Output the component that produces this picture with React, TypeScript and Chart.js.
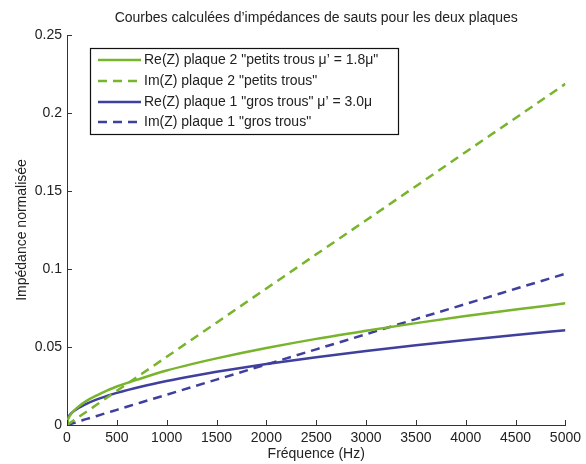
import { useEffect, useRef } from 'react';
import { Chart, registerables } from 'chart.js';

Chart.register(...registerables);

const titleText = 'Courbes calculées d’impédances de sauts pour les deux plaques';
const xLabel = 'Fréquence (Hz)';
const yLabel = 'Impédance normalisée';

const freqs = [0, 10, 25, 50, 100, 200, 300, 400, 500, 750, 1000, 1250, 1500, 2000, 2500, 3000, 3500, 4000, 4500, 5000];
const re2 = [0, 0.0035, 0.0055, 0.0078, 0.011, 0.0156, 0.019, 0.022, 0.0247, 0.030, 0.0349, 0.039, 0.0427, 0.0493, 0.0552, 0.0604, 0.0653, 0.0698, 0.074, 0.078];
const im2 = [0, 0.0004, 0.0011, 0.0022, 0.0044, 0.0087, 0.0131, 0.0175, 0.0219, 0.0328, 0.0437, 0.0547, 0.0656, 0.0875, 0.1094, 0.1312, 0.1531, 0.175, 0.1968, 0.2187];
const re1 = [0, 0.0046, 0.0062, 0.0079, 0.0103, 0.0137, 0.0164, 0.0186, 0.0206, 0.0247, 0.0282, 0.0313, 0.0341, 0.0391, 0.0435, 0.0475, 0.0511, 0.0545, 0.0577, 0.0607];
const im1 = [0, 0.0002, 0.0005, 0.001, 0.0019, 0.0039, 0.0058, 0.0078, 0.0097, 0.0146, 0.0194, 0.0243, 0.0291, 0.0388, 0.0485, 0.0582, 0.0679, 0.0776, 0.0873, 0.097];

const xTicks = [0, 500, 1000, 1500, 2000, 2500, 3000, 3500, 4000, 4500, 5000];
const yTicks = [0, 0.05, 0.1, 0.15, 0.2, 0.25];

const seriesLabels = [
  'Re(Z) plaque 2 "petits trous μ’ = 1.8μ"',
  'Im(Z) plaque 2 "petits trous"',
  'Re(Z) plaque 1 "gros trous" μ’ = 3.0μ',
  'Im(Z) plaque 1 "gros trous"',
];

const GREEN = '#78B42C';
const BLUE = '#3F3F9E';
const DASH = [9, 6];
const FONT = '"Liberation Sans", Arial, Helvetica, sans-serif';
const TEXT = '#222222';
const FS = 14;

const toPts = (ys: number[]) => ys.map((y, i) => ({ x: freqs[i], y }));

const deco = {
  id: 'deco',
  afterDraw(chart: any) {
    const ctx = chart.ctx as CanvasRenderingContext2D;
    const { left, right, top, bottom } = chart.chartArea;
    const xs = chart.scales.x;
    const ys = chart.scales.y;
    ctx.save();
    ctx.strokeStyle = '#333';
    ctx.lineWidth = 1;
    ctx.setLineDash([]);
    for (const v of xTicks) {
      const px = Math.round(xs.getPixelForValue(v)) + 0.5;
      ctx.beginPath();
      ctx.moveTo(px, bottom);
      ctx.lineTo(px, bottom - 5);
      ctx.stroke();
    }
    for (const v of yTicks) {
      const py = Math.round(ys.getPixelForValue(v)) + 0.5;
      ctx.beginPath();
      ctx.moveTo(left, py);
      ctx.lineTo(left + 5, py);
      ctx.stroke();
    }
    ctx.fillStyle = TEXT;
    ctx.font = FS + 'px ' + FONT;
    ctx.textAlign = 'center';
    ctx.textBaseline = 'middle';
    const cx = (left + right) / 2;
    ctx.fillText(titleText, cx, 18);
    ctx.fillText(xLabel, cx, 454);
    ctx.save();
    ctx.translate(22, (top + bottom) / 2);
    ctx.rotate(-Math.PI / 2);
    ctx.fillText(yLabel, 0, 0);
    ctx.restore();

    // legend
    const bx = 90.5, by = 48.5, bw = 308, bh = 86;
    ctx.fillStyle = '#fff';
    ctx.fillRect(bx, by, bw, bh);
    ctx.strokeStyle = '#111';
    ctx.lineWidth = 1.2;
    ctx.strokeRect(bx, by, bw, bh);
    const rows = [60, 81, 102, 122];
    const cols = [GREEN, GREEN, BLUE, BLUE];
    const dashed = [false, true, false, true];
    ctx.textAlign = 'left';
    for (let i = 0; i < 4; i++) {
      ctx.strokeStyle = cols[i];
      ctx.lineWidth = 2.5;
      ctx.setLineDash(dashed[i] ? DASH : []);
      ctx.beginPath();
      ctx.moveTo(98, rows[i]);
      ctx.lineTo(141, rows[i]);
      ctx.stroke();
      ctx.setLineDash([]);
      ctx.fillStyle = TEXT;
      ctx.fillText(seriesLabels[i], 144, rows[i]);
    }
    ctx.restore();
  },
};

export default function App() {
  const ref = useRef<HTMLCanvasElement>(null);
  useEffect(() => {
    document.body.style.margin = '0';
    const chart = new Chart(ref.current!, {
      type: 'line',
      data: {
        datasets: [
          { label: seriesLabels[0], data: toPts(re2), borderColor: GREEN, borderWidth: 2.5 },
          { label: seriesLabels[1], data: toPts(im2), borderColor: GREEN, borderWidth: 2.5, borderDash: DASH },
          { label: seriesLabels[2], data: toPts(re1), borderColor: BLUE, borderWidth: 2.5 },
          { label: seriesLabels[3], data: toPts(im1), borderColor: BLUE, borderWidth: 2.5, borderDash: DASH },
        ],
      },
      options: {
        animation: false,
        responsive: true,
        maintainAspectRatio: false,
        layout: { padding: { top: 35, right: 19, left: 0, bottom: 0 } },
        elements: { point: { radius: 0 }, line: { cubicInterpolationMode: 'monotone', fill: false } },
        plugins: { legend: { display: false }, title: { display: false }, tooltip: { enabled: false } },
        scales: {
          x: {
            type: 'linear',
            min: 0,
            max: 5000,
            afterBuildTicks: (s: any) => { s.ticks = xTicks.map((v) => ({ value: v })); },
            afterFit: (s: any) => { s.height = 39; },
            ticks: {
              font: { size: FS, family: FONT },
              color: TEXT,
              padding: 5,
              maxRotation: 0,
              autoSkip: false,
              callback: (v: any) => String(v),
            },
            grid: { drawOnChartArea: false, drawTicks: false },
            border: { color: '#333', width: 1 },
          },
          y: {
            type: 'linear',
            min: 0,
            max: 0.25,
            afterBuildTicks: (s: any) => { s.ticks = yTicks.map((v) => ({ value: v })); },
            afterFit: (s: any) => { s.width = 67; },
            ticks: {
              font: { size: FS, family: FONT },
              color: TEXT,
              padding: 5,
              callback: (v: any) => String(Number(Number(v).toFixed(2))),
            },
            grid: { drawOnChartArea: false, drawTicks: false },
            border: { color: '#333', width: 1 },
          },
        },
      },
      plugins: [deco],
    });
    return () => chart.destroy();
  }, []);
  return (
    <div style={{ width: 586, height: 464, position: 'relative' }}>
      <canvas ref={ref} />
    </div>
  );
}
